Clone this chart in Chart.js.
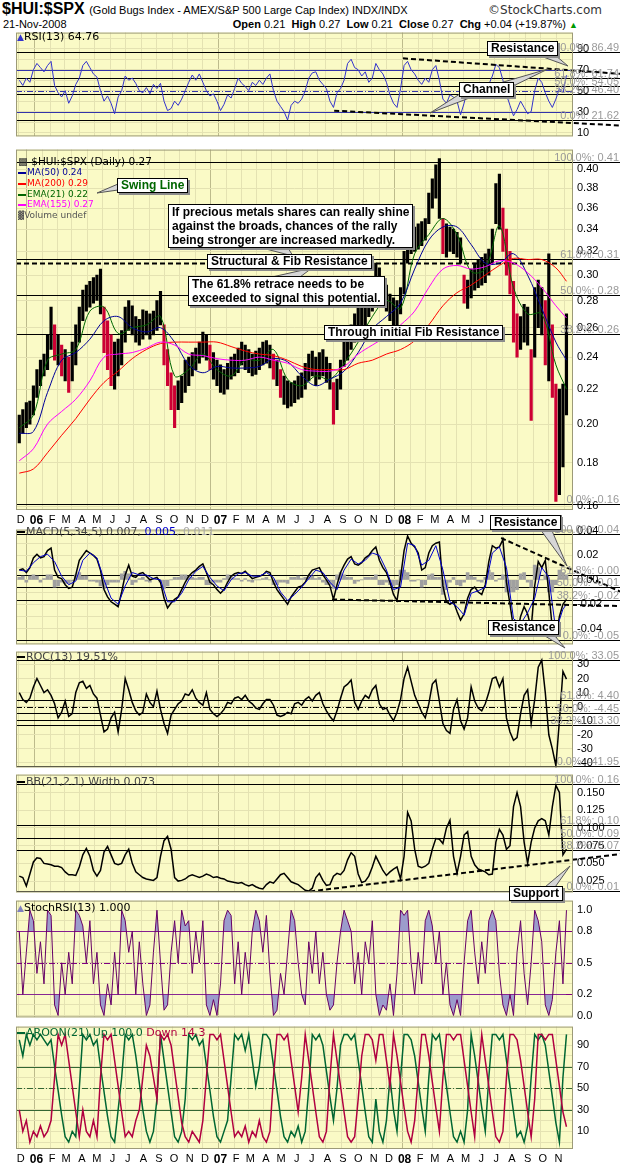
<!DOCTYPE html>
<html>
<head>
<meta charset="utf-8">
<title>$HUI:$SPX</title>
<script src="https://cdn.jsdelivr.net/npm/chart.js@4.4.1/dist/chart.umd.min.js"></script>
<style>
  body { margin: 0; width: 620px; height: 1165px; position: relative; background: #fff; overflow: hidden;
         font-family: "Liberation Sans", Arial, sans-serif; }
  canvas { position: absolute; left: 0; }
  .t { position: absolute; white-space: nowrap; color: #000; }
  .lg { position: absolute; white-space: nowrap; font: 11px "DejaVu Sans", Verdana, sans-serif; line-height: 13px; z-index: 5; }
  .lm { position: absolute; white-space: nowrap; font: 9px "DejaVu Sans", Verdana, sans-serif; line-height: 11px; z-index: 5; }
  .mk { display: inline-block; width: 8px; height: 2px; vertical-align: middle; margin-right: 1px; }
  .box { position: absolute; background: #fff; border: 1px solid #000; box-shadow: 2px 2px 0 #8c8c8c;
         font: bold 12px "Liberation Sans", Arial, sans-serif; line-height: 13px; padding: 0 3px; z-index: 7; white-space: nowrap; }
  svg { position: absolute; left: 0; top: 0; z-index: 6; }
</style>
</head>
<body>

<div class="t" style="left:2px;top:0px"><span style="font:bold 16px 'Liberation Sans',Arial">$HUI:$SPX</span>
  <span style="font:11px 'Liberation Sans',Arial">(Gold Bugs Index - AMEX/S&amp;P 500 Large Cap Index) INDX/INDX</span></div>
<div class="t" style="right:18px;top:3px;font:12px 'DejaVu Sans',Verdana;color:#333">&copy;StockCharts.com</div>
<div class="t" style="left:3px;top:18px;font:11px 'Liberation Sans',Arial">21-Nov-2008</div>
<div class="t" style="right:42px;top:18px;font:11px 'Liberation Sans',Arial"><b>Open</b> 0.21 &nbsp;<b>High</b> 0.27 &nbsp;<b>Low</b> 0.21 &nbsp;<b>Close</b> 0.27 &nbsp;<b>Chg</b> +0.04 (+19.87%) <span style="color:#009900;font-size:9px">&#9650;</span></div>

<canvas id="cRsi"></canvas>
<canvas id="cPrice"></canvas>
<canvas id="cMacd"></canvas>
<canvas id="cRoc"></canvas>
<canvas id="cBb"></canvas>
<canvas id="cSrsi"></canvas>
<canvas id="cAroon"></canvas>

<!-- panel legends -->
<div class="lg" style="left:17px;top:30px"><span style="color:#3333cc;font-size:9px">&#9650;</span>RSI(13) 64.76</div>

<div class="lm" style="left:18px;top:156px;font-size:10.5px"><span style="color:#333">&#9641;</span> $HUI:$SPX (Daily) 0.27</div>
<div class="lm" style="left:18px;top:167px;color:#000099"><span class="mk" style="background:#000099"></span>MA(50) 0.24</div>
<div class="lm" style="left:18px;top:178px;color:#ff0000"><span class="mk" style="background:#ff0000"></span>MA(200) 0.29</div>
<div class="lm" style="left:18px;top:189px;color:#006600"><span class="mk" style="background:#006600"></span>EMA(21) 0.22</div>
<div class="lm" style="left:18px;top:199px;color:#ff00ff"><span class="mk" style="background:#ff00ff"></span>EMA(155) 0.27</div>
<div class="lm" style="left:18px;top:210px;color:#555"><span style="font-size:8px">&#9619;</span>Volume undef</div>

<div class="lg" style="left:17px;top:525px;color:#444"><span class="mk" style="background:#000"></span>MACD(5,34,5) 0.007, <span style="color:#0000cc">0.005</span><span style="color:#aaa">, 0.011</span></div>
<div class="lg" style="left:17px;top:650px;color:#444"><span class="mk" style="background:#000"></span>ROC(13) 19.51%</div>
<div class="lg" style="left:17px;top:775px;color:#444"><span class="mk" style="background:#000"></span>BB(21,2.1) Width 0.073</div>
<div class="lg" style="left:17px;top:901px;color:#000"><span style="color:#8080c0;font-size:9px">&#9650;</span>StochRSI(13) 1.000</div>
<div class="lg" style="left:17px;top:1026px;color:#006633"><span class="mk" style="background:#006633"></span>AROON(21) Up 100.0 <span style="color:#b00040">Down 14.3</span></div>

<!-- callout tails -->
<svg width="620" height="1165">
  <g fill="#d6d6d6" stroke="#555" stroke-width="1">
    <polygon points="535,54 549,50 568,66"/>
    <polygon points="500,83 507,89 548,69"/>
    <polygon points="463,92 472,97 430,113"/>
    <polygon points="118,184 118,190 97,193"/>
    <polygon points="262,248 288,248 293,256"/>
    <polygon points="272,277 300,277 312,268"/>
    <polygon points="540,529 550,526 567,566"/>
    <polygon points="540,633 550,630 565,648"/>
    <polygon points="545,887 553,890 570,866"/>
  </g>
</svg>

<!-- callout boxes -->
<div class="box" style="left:487px;top:41px">Resistance</div>
<div class="box" style="left:459px;top:82px">Channel</div>
<div class="box" style="left:117px;top:178px;color:#006600">Swing Line</div>
<div class="box" style="left:168px;top:204px;line-height:14px">If precious metals shares can really shine<br>against the broads, chances of the rally<br>being stronger are increased markedly.</div>
<div class="box" style="left:207px;top:254px">Structural &amp; Fib Resistance</div>
<div class="box" style="left:188px;top:276px;line-height:14px">The 61.8% retrace needs to be<br>exceeded to signal this potential.</div>
<div class="box" style="left:324px;top:325px">Through initial Fib Resistance</div>
<div class="box" style="left:490px;top:515px">Resistance</div>
<div class="box" style="left:488px;top:620px">Resistance</div>
<div class="box" style="left:509px;top:886px">Support</div>

<script>
// weekly samples, week 0 = week ending Fri 2 Dec 2005, week 155 = 21 Nov 2008
const WEEK0 = Date.UTC(2005, 11, 2);

// $HUI:$SPX weekly low / high
const PRICE_LO = [
  0.190,0.195,0.198,0.200,0.205,0.215,0.222,0.228,0.232,0.245,
  0.238,0.235,0.228,0.225,0.218,0.225,0.235,0.250,0.265,0.272,
  0.275,0.278,0.280,0.270,0.243,0.232,0.222,0.220,0.228,0.235,
  0.250,0.258,0.255,0.250,0.248,0.252,0.255,0.252,0.255,0.258,
  0.262,0.235,0.222,0.208,0.198,0.208,0.212,0.218,0.222,0.228,
  0.232,0.236,0.240,0.238,0.232,0.226,0.222,0.218,0.217,0.220,
  0.226,0.228,0.230,0.235,0.232,0.230,0.228,0.229,0.232,0.235,
  0.236,0.233,0.226,0.222,0.215,0.211,0.209,0.210,0.212,0.214,
  0.215,0.220,0.225,0.228,0.222,0.226,0.228,0.224,0.220,0.200,
  0.208,0.220,0.234,0.238,0.245,0.250,0.255,0.258,0.262,0.268,
  0.272,0.282,0.280,0.277,0.272,0.265,0.262,0.262,0.270,0.285,
  0.310,0.318,0.320,0.322,0.325,0.330,0.345,0.360,0.370,0.350,
  0.318,0.315,0.320,0.318,0.315,0.310,0.278,0.274,0.282,0.288,
  0.290,0.292,0.294,0.300,0.310,0.345,0.340,0.320,0.300,0.285,
  0.250,0.240,0.245,0.250,0.248,0.202,0.240,0.260,0.255,0.235,
  0.225,0.215,0.162,0.165,0.178,0.205
];
const PRICE_HI = [
  0.205,0.208,0.212,0.213,0.222,0.232,0.238,0.242,0.255,0.275,
  0.262,0.255,0.248,0.245,0.240,0.250,0.262,0.275,0.288,0.292,
  0.295,0.298,0.300,0.305,0.275,0.265,0.255,0.250,0.252,0.258,
  0.275,0.280,0.276,0.268,0.266,0.273,0.272,0.270,0.272,0.280,
  0.287,0.262,0.245,0.230,0.222,0.225,0.228,0.238,0.240,0.243,
  0.246,0.250,0.257,0.255,0.248,0.243,0.238,0.235,0.232,0.236,
  0.240,0.242,0.246,0.250,0.248,0.245,0.242,0.244,0.246,0.250,
  0.251,0.248,0.242,0.238,0.232,0.228,0.225,0.224,0.225,0.228,
  0.230,0.236,0.242,0.244,0.240,0.243,0.245,0.240,0.236,0.224,
  0.226,0.238,0.258,0.260,0.262,0.270,0.275,0.280,0.285,0.290,
  0.295,0.310,0.306,0.296,0.292,0.285,0.282,0.280,0.290,0.320,
  0.335,0.345,0.342,0.345,0.347,0.350,0.375,0.390,0.405,0.412,
  0.350,0.345,0.342,0.340,0.337,0.332,0.300,0.296,0.305,0.310,
  0.313,0.315,0.318,0.322,0.340,0.385,0.395,0.360,0.340,0.320,
  0.295,0.270,0.268,0.277,0.275,0.245,0.290,0.296,0.290,0.280,
  0.318,0.262,0.223,0.220,0.223,0.270
];

// moving averages, read every 4th week (last one on week 155)
const MA50 = [0.195,0.196,0.218,0.238,0.243,0.252,0.265,0.268,0.260,0.257,
  0.260,0.250,0.235,0.230,0.234,0.233,0.233,0.234,0.239,0.237,
  0.228,0.222,0.226,0.231,0.243,0.259,0.268,0.278,0.305,0.330,
  0.342,0.342,0.326,0.310,0.310,0.318,0.300,0.274,0.250,0.238];
const MA200 = [0.175,0.177,0.185,0.194,0.203,0.214,0.224,0.231,0.239,0.245,
  0.249,0.250,0.250,0.250,0.250,0.247,0.244,0.242,0.241,0.238,
  0.234,0.232,0.232,0.232,0.236,0.238,0.242,0.245,0.251,0.262,
  0.276,0.286,0.292,0.300,0.308,0.314,0.313,0.313,0.306,0.295];
const EMA21 = [0.198,0.205,0.238,0.242,0.245,0.272,0.275,0.256,0.260,0.262,
  0.268,0.228,0.232,0.242,0.232,0.228,0.238,0.238,0.245,0.226,
  0.222,0.228,0.226,0.236,0.250,0.268,0.280,0.274,0.318,0.335,
  0.350,0.335,0.303,0.305,0.343,0.290,0.270,0.270,0.235,0.220];
const EMA155 = [0.181,0.187,0.200,0.207,0.214,0.225,0.240,0.242,0.243,0.246,
  0.250,0.248,0.242,0.241,0.239,0.238,0.238,0.240,0.238,0.236,
  0.232,0.231,0.231,0.234,0.242,0.248,0.254,0.262,0.272,0.290,
  0.305,0.308,0.305,0.307,0.312,0.310,0.302,0.290,0.276,0.267];

const RSI = [
  60,55,62,58,70,76,72,68,74,78, 55,48,44,50,38,45,56,62,74,78,
  72,66,63,50,40,45,38,28,44,50, 64,60,62,57,50,48,53,47,56,52,
  57,40,31,33,40,36,42,50,58,65, 60,66,58,50,45,47,40,31,37,46,
  43,52,62,57,54,50,58,55,60,56, 62,66,50,40,35,30,22,36,40,38,
  42,50,62,67,68,60,56,52,40,34, 48,52,60,76,80,72,70,64,68,58,
  62,76,70,66,58,46,38,34,52,74, 78,70,66,60,56,62,58,70,74,60,
  42,38,46,44,40,27,38,52,55,50, 56,52,48,56,64,75,72,60,46,36,
  26,32,40,34,28,30,50,62,58,48, 40,34,42,52,48,64.76
];

const MACD = [
  0.008,0.009,0.006,0.010,0.018,0.021,0.018,0.019,0.024,0.026,
  0.008,0.002,0.001,-0.004,-0.007,-0.006,0.004,0.016,0.020,0.024,
  0.022,0.020,0.017,0.008,-0.008,-0.014,-0.018,-0.020,-0.022,-0.010,
  0.004,0.012,0.003,0.002,0.005,0.006,0.003,0.000,0.001,0.002,
  -0.002,-0.015,-0.023,-0.019,-0.016,-0.014,-0.008,-0.002,0.003,0.006,
  0.008,0.011,0.013,0.006,-0.002,-0.004,-0.008,-0.011,-0.008,-0.002,
  0.003,0.005,0.006,0.005,0.007,0.004,0.001,0.002,0.003,0.004,
  0.007,0.006,-0.002,-0.008,-0.012,-0.016,-0.020,-0.014,-0.010,-0.006,
  -0.005,-0.002,0.004,0.008,0.009,0.010,0.004,0.000,-0.005,-0.016,
  -0.004,0.006,0.012,0.017,0.019,0.013,0.012,0.014,0.018,0.020,
  0.024,0.027,0.016,0.010,0.006,-0.002,-0.012,-0.017,0.002,0.024,
  0.036,0.030,0.027,0.022,0.008,0.010,0.022,0.028,0.030,0.031,
  -0.005,-0.018,-0.020,-0.018,-0.026,-0.033,-0.028,-0.015,-0.008,-0.006,
  -0.010,-0.012,-0.004,0.015,0.028,0.026,0.027,0.033,-0.002,-0.020,
  -0.040,-0.045,-0.030,-0.022,-0.028,-0.040,-0.005,0.015,0.010,0.016,
  -0.010,-0.040,-0.048,-0.030,-0.020,-0.016
];
// signal line, read every 2nd week (last one on week 155)
const MACD_SIG = [
  0.008,0.007,0.014,0.019,0.021,0.015,0.003,-0.004,-0.001,0.016,
  0.022,0.018,0.000,-0.015,-0.020,-0.005,0.006,0.004,0.004,0.001,
  0.000,-0.018,-0.018,-0.011,0.000,0.007,0.011,0.002,-0.005,-0.009,
  0.000,0.005,0.006,0.003,0.003,0.006,0.002,-0.010,-0.017,-0.012,
  -0.006,0.001,0.008,0.006,-0.002,-0.008,0.008,0.017,0.013,0.016,
  0.022,0.020,0.008,-0.008,-0.006,0.030,0.028,0.012,0.016,0.028,
  0.008,-0.018,-0.022,-0.029,-0.011,-0.009,-0.006,0.022,0.027,0.010,
  -0.032,-0.036,-0.027,-0.015,0.010,0.002,-0.042,-0.024,-0.020
];
const MACD_HIST = [
  0.002,0.003,-0.002,0.003,0.004,0.003,-0.002,0.001,0.004,0.004,
  -0.006,-0.005,-0.002,-0.003,-0.003,-0.001,0.004,0.006,0.003,0.003,
  -0.001,-0.001,-0.002,-0.005,-0.007,-0.004,-0.002,-0.002,-0.002,0.005,
  0.007,0.005,-0.004,-0.002,0.001,0.002,-0.001,-0.002,0.001,0.001,
  -0.002,-0.007,-0.005,0.000,0.002,0.002,0.004,0.004,0.003,0.002,
  0.001,0.002,0.002,-0.004,-0.004,-0.002,-0.002,-0.002,0.001,0.004,
  0.003,0.001,0.001,-0.001,0.001,-0.001,-0.002,0.000,0.000,0.001,
  0.002,0.000,-0.004,-0.004,-0.002,-0.002,-0.003,0.002,0.002,0.003,
  0.001,0.002,0.003,0.003,0.001,0.002,-0.002,-0.004,-0.004,-0.007,
  0.004,0.006,0.004,0.002,0.002,-0.003,-0.001,0.000,0.002,0.002,
  0.002,0.004,-0.004,-0.004,-0.002,-0.004,-0.005,-0.004,0.008,0.008,
  0.006,-0.001,-0.001,0.000,-0.006,-0.004,0.004,0.005,0.002,0.002,
  -0.012,-0.008,-0.002,0.002,-0.004,-0.005,-0.002,0.006,0.003,0.002,
  -0.001,-0.002,0.002,0.008,0.006,-0.001,0.001,0.004,-0.010,-0.010,
  -0.010,-0.008,0.005,0.006,-0.002,-0.006,0.012,0.010,0.000,0.004,
  -0.010,-0.010,-0.004,0.008,0.006,0.004
];

const ROC = [
  10,5,3,6,14,20,15,10,12,8, 2,-8,-4,4,-7,-5,10,17,18,13,
  15,9,6,-6,-18,-16,-8,-4,-18,-2, 20,12,3,-3,-6,-4,9,3,0,11,
  -2,-12,-19,-6,-2,2,4,9,8,12, 6,3,1,10,-2,-5,-7,-5,-2,3,
  2,6,7,5,8,4,2,-1,-2,2, 5,5,1,-6,-7,-6,-4,-5,2,3,
  1,5,7,4,8,10,2,-3,-7,-10, -3,6,14,16,19,3,-2,4,8,6,
  12,15,2,-2,-1,-6,-10,-4,5,20, 28,18,8,2,-4,-8,2,16,19,4,
  -12,-17,-19,-2,5,-10,-16,-8,14,4, -1,-3,2,10,20,21,14,20,-8,-18,
  -24,-22,-5,8,12,-12,5,28,33,10, -20,-30,-42,-10,25,19.51
];

const BB_WIDTH = [
  0.032,0.030,0.018,0.035,0.052,0.058,0.057,0.050,0.049,0.048,
  0.046,0.046,0.044,0.038,0.034,0.034,0.033,0.045,0.062,0.071,
  0.060,0.040,0.032,0.040,0.066,0.074,0.062,0.050,0.048,0.050,
  0.062,0.070,0.050,0.038,0.034,0.030,0.028,0.027,0.026,0.030,
  0.060,0.082,0.088,0.070,0.030,0.025,0.026,0.028,0.032,0.034,
  0.032,0.030,0.032,0.035,0.033,0.030,0.031,0.029,0.028,0.025,
  0.024,0.023,0.022,0.023,0.020,0.018,0.020,0.017,0.015,0.014,
  0.020,0.024,0.022,0.028,0.034,0.036,0.030,0.024,0.022,0.020,
  0.016,0.012,0.011,0.015,0.030,0.036,0.026,0.019,0.020,0.032,
  0.036,0.034,0.040,0.055,0.065,0.060,0.035,0.023,0.025,0.032,
  0.045,0.060,0.050,0.040,0.033,0.038,0.042,0.045,0.028,0.060,
  0.122,0.110,0.070,0.046,0.044,0.046,0.050,0.070,0.085,0.084,
  0.078,0.100,0.111,0.060,0.036,0.060,0.090,0.095,0.060,0.048,
  0.042,0.040,0.038,0.034,0.035,0.080,0.098,0.090,0.070,0.075,
  0.130,0.150,0.130,0.080,0.050,0.080,0.100,0.110,0.113,0.110,
  0.090,0.130,0.160,0.150,0.062,0.070
];

const STOCH_RSI = [
  0.8,0.2,0.6,1.0,0.9,0.4,0.7,0.3,1.0,0.95, 0.1,0.0,0.5,0.2,0.6,0.3,1.0,0.95,0.85,0.5,
  0.9,0.3,0.6,0.1,0.0,0.3,0.1,0.6,0.2,1.0, 0.9,0.6,0.8,0.2,0.7,0.3,0.0,0.1,0.6,1.0,
  0.5,0.05,0.1,0.6,0.9,0.5,1.0,0.85,0.9,0.4, 0.8,0.5,0.9,0.1,0.0,0.15,0.0,0.3,0.9,1.0,
  0.95,0.3,0.7,0.2,0.6,0.3,0.8,1.0,0.9,0.6, 0.95,0.4,0.0,0.05,0.4,0.2,0.6,1.0,0.9,0.5,
  0.2,0.1,0.7,0.4,0.8,0.3,0.6,0.2,0.05,0.1, 0.5,0.8,1.0,0.9,0.8,0.3,0.6,0.2,0.7,0.5,
  0.9,0.2,0.0,0.1,0.05,0.3,0.0,0.4,1.0,0.95, 1.0,0.5,0.2,0.6,0.3,0.9,1.0,0.85,0.5,0.8,
  0.2,0.5,0.1,0.0,0.15,0.0,0.5,0.9,1.0,0.6, 0.3,0.7,0.4,0.9,1.0,0.9,0.4,0.1,0.0,0.2,
  0.0,0.6,0.9,0.4,0.1,0.5,1.0,0.9,0.7,0.1, 0.0,0.15,0.6,0.9,0.3,1.0
];

const AROON_UP = [
  95,80,100,90,100,95,100,95,90,95, 70,48,25,5,0,10,5,50,100,95,
  100,90,95,70,47,24,5,0,30,60, 100,95,100,80,55,30,10,0,10,40,
  100,76,52,28,5,0,10,40,100,95, 100,90,95,71,48,24,5,0,10,20,
  60,100,95,100,85,100,76,52,70,100, 100,95,71,48,24,5,0,10,5,15,
  0,10,50,100,95,100,90,66,42,20, 50,90,100,100,95,100,76,52,28,5,
  0,40,10,0,20,60,30,10,60,100, 100,95,80,56,32,10,60,100,95,100,
  76,52,28,5,0,10,0,30,100,80, 56,32,10,60,100,100,95,100,76,52,
  28,5,10,0,15,60,100,95,100,90, 66,42,18,0,60,100
];
const AROON_DOWN = [
  30,10,20,0,10,5,15,5,10,20, 60,100,90,100,76,52,28,5,30,10,
  5,20,5,60,100,95,100,76,52,28, 5,10,5,20,30,60,90,80,60,40,
  100,95,100,90,66,42,18,5,0,10, 5,0,20,60,100,100,95,100,76,52,
  28,5,10,5,15,0,10,5,20,5, 0,10,60,100,100,95,100,76,52,28,
  60,100,76,52,28,5,0,10,60,100, 76,52,28,5,0,5,40,80,100,100,
  95,76,100,100,76,52,100,80,56,32, 10,0,20,60,100,100,80,56,32,10,
  60,100,100,95,100,100,76,52,28,5, 60,100,76,52,28,5,0,10,60,100,
  100,95,76,52,28,5,40,100,100,95, 100,100,76,52,28,14.3
];

// fibonacci retracement levels shown on each panel
const FIB_PCT = ["100.0%", "61.8%", "50.0%", "38.2%", "0.0%"];
const RSI_FIB = [86.49, 61.74, 54.05, 46.40, 21.62];
const PRICE_FIB = [0.408, 0.3136, 0.2845, 0.2554, 0.161];
const PRICE_FIB_TXT = ["0.41", "0.31", "0.28", "0.26", "0.16"];
const MACD_FIB = [0.0375, 0.0042, -0.0061, -0.0164, -0.0497];
const MACD_FIB_TXT = ["0.04", "0.00", "-0.01", "-0.02", "-0.05"];
const ROC_FIB = [33.05, 4.40, -4.45, -13.30, -41.95];
const BB_FIB = [0.1615, 0.1038, 0.0860, 0.0682, 0.0105];
const BB_FIB_TXT = ["0.16", "0.10", "0.09", "0.07", "0.01"];

// hand drawn trend lines: [week, value] pairs
const RSI_RES_LINE = [[108.7, 80.9], [170.2, 66.1]];
const RSI_SUP_LINE = [[89.2, 30.9], [170.2, 16.8]];
const MACD_RES_LINE = [[136.5, 0.0343], [170.2, -0.0096]];
const MACD_SUP_LINE = [[88.6, -0.0161], [170.2, -0.0215]];
const BB_SUP_LINE = [[82.4, 0.0105], [170.2, 0.0631]];
const STRUCT_RES = 0.31;

// axis tick values
const PRICE_TICKS = [0.16,0.18,0.20,0.22,0.24,0.26,0.28,0.30,0.32,0.34,0.36,0.38,0.40];
const RSI_TICKS = [10,20,30,40,50,60,70,80,90,100];
const MACD_TICKS = [-0.04,-0.03,-0.02,-0.01,0,0.01,0.02,0.03,0.04];
const ROC_TICKS = [-40,-30,-20,-10,0,10,20,30];
const BB_TICKS = [0.025,0.05,0.075,0.1,0.125,0.15];
const SRSI_TICKS = [0,0.1,0.2,0.3,0.4,0.5,0.6,0.7,0.8,0.9,1.0];
const AROON_TICKS = [0,10,20,30,40,50,60,70,80,90,100];

// ---------------------------------------------------------------

const BG = "#fafac6";
const GRID = "#e4e2b2";
const YEAR_GRID = "#bdbb8c";
const EDGE = "#9c9a78";
const RED_BAR = "#cc0033";
const X_MIN = -0.93, X_MAX = 156.85;
const WEEKS = PRICE_LO.map((_, k) => k);
const MA_WEEKS = MA50.map((_, i) => Math.min(i * 4, 155));
const SIG_WEEKS = MACD_SIG.map((_, i) => Math.min(i * 2, 155));

// month boundaries for the date axis
const MONTHS = [];
for (let i = 0; i < 36; i++) {
  const y = 2005 + Math.floor((11 + i) / 12), m = (11 + i) % 12;
  MONTHS.push({
    value: (Date.UTC(y, m, 1) - WEEK0) / (7 * 864e5),
    label: m === 0 ? String(y).slice(2) : "JFMAMJJASOND"[m],
    major: m === 0
  });
}

const FONT = '"Liberation Sans", Arial, sans-serif';

function xScale(labels) {
  return {
    type: "linear", min: X_MIN, max: X_MAX, offset: false, bounds: "data",
    afterBuildTicks: s => { s.ticks = MONTHS.map(t => ({ value: t.value, major: t.major })); },
    afterFit: s => { s.height = labels ? 17 : 0; },
    grid: { color: c => (c.tick && c.tick.major) ? YEAR_GRID : GRID, drawTicks: false },
    border: { display: false },
    ticks: {
      display: labels, autoSkip: false, maxRotation: 0, padding: 3, labelOffset: 2, color: "#000",
      callback: (v, i) => MONTHS[i].label,
      font: c => (c.tick && c.tick.major) ? { family: FONT, size: 12, weight: "bold" } : { family: FONT, size: 11 }
    }
  };
}

function yScale(o) {
  return {
    type: o.log ? "logarithmic" : "linear", position: "right", min: o.min, max: o.max, bounds: "data",
    afterBuildTicks: s => { s.ticks = o.ticks.map(v => ({ value: v })); },
    afterFit: s => { s.width = 47; },
    grid: { color: GRID, drawTicks: false },
    border: { display: false },
    ticks: { padding: 4, color: "#000", font: { family: FONT, size: 11 }, autoSkip: false, callback: o.fmt }
  };
}

function deco(cfg) {
  return {
    id: "deco",
    beforeDraw(chart) {
      const a = chart.chartArea, c = chart.ctx;
      c.save();
      c.fillStyle = BG;
      c.fillRect(a.left, a.top, a.right - a.left, a.bottom - a.top);
      c.restore();
    },
    beforeDatasetsDraw(chart) {
      const a = chart.chartArea, c = chart.ctx, ys = chart.scales.y;
      c.save();
      (cfg.levels || []).forEach(l => {
        const y = Math.round(ys.getPixelForValue(l.v)) + 0.5;
        c.strokeStyle = l.c || "#000";
        c.lineWidth = l.w || 1;
        c.setLineDash(l.d || []);
        c.beginPath(); c.moveTo(a.left, y); c.lineTo(a.right, y); c.stroke();
      });
      // fib lines run on into the label strip
      c.setLineDash([]);
      c.strokeStyle = "#000";
      c.lineWidth = 1;
      (cfg.fibs || []).forEach(f => {
        const y = Math.round(ys.getPixelForValue(f.v)) + 0.5;
        c.beginPath(); c.moveTo(a.left, y); c.lineTo(chart.width, y); c.stroke();
      });
      c.restore();
    },
    afterDraw(chart) {
      const a = chart.chartArea, c = chart.ctx, ys = chart.scales.y;
      c.save();
      c.strokeStyle = EDGE; c.lineWidth = 1;
      c.strokeRect(a.left + 0.5, a.top + 0.5, a.right - a.left - 1, a.bottom - a.top - 1);
      c.font = "11px " + FONT;
      c.fillStyle = "#9a9a9a"; c.textAlign = "right"; c.textBaseline = "bottom";
      (cfg.fibs || []).forEach(f => c.fillText(f.t, 619, Math.round(ys.getPixelForValue(f.v)) + 1));
      c.restore();
    }
  };
}

function pane(id, top, bottom, axis, cfg) {
  const cv = document.getElementById(id);
  cv.width = 620;
  cv.height = bottom - top + 8 + (axis ? 17 : 8);
  cv.style.top = (top - 8) + "px";
  return new Chart(cv, {
    type: "line",
    data: { datasets: cfg.datasets },
    options: {
      responsive: false, animation: false, devicePixelRatio: 1, events: [],
      layout: { padding: { left: 16, right: 0, top: 8, bottom: axis ? 0 : 8 } },
      plugins: { legend: { display: false }, tooltip: { enabled: false } },
      elements: { point: { radius: 0 }, line: { borderWidth: 1, tension: 0 } },
      scales: { x: xScale(axis), y: yScale(cfg.y) }
    },
    plugins: [deco(cfg)]
  });
}

const line = (xs, ys, color, extra) => Object.assign({
  type: "line", data: xs.map((x, i) => ({ x: x, y: ys[i] })), borderColor: color,
  borderWidth: 1, pointRadius: 0, fill: false, order: 1
}, extra || {});

const trend = (pts) => ({
  type: "line", data: pts.map(p => ({ x: p[0], y: p[1] })), borderColor: "#000",
  borderWidth: 2, borderDash: [5, 3], pointRadius: 0, fill: false, clip: false, order: 0
});

const fibs = (vals, txt) => vals.map((v, i) => ({ v: v, t: FIB_PCT[i] + ": " + (txt ? txt[i] : v.toFixed(2)) }));

// RSI
pane("cRsi", 30, 139, false, {
  y: { min: 6.36, max: 105.45, ticks: RSI_TICKS, fmt: v => (v % 20 === 10 ? String(v) : "") },
  levels: [{ v: 70, c: "#3333aa" }, { v: 30, c: "#3333aa" }, { v: 50, c: "#3333aa", d: [6, 2, 1, 2] }],
  fibs: fibs(RSI_FIB),
  datasets: [
    line(WEEKS, RSI, "#3333cc"),
    trend(RSI_RES_LINE), trend(RSI_SUP_LINE)
  ]
});

// price: a week is drawn red when its mid point falls clearly below the previous week's
const barColors = PRICE_LO.map((lo, k) => {
  if (k === 0) return "#000";
  const mid = lo + PRICE_HI[k], prev = PRICE_LO[k - 1] + PRICE_HI[k - 1];
  return mid < prev * 0.975 ? RED_BAR : "#000";
});
pane("cPrice", 147, 510, true, {
  y: { log: true, min: 0.1583, max: 0.4222, ticks: PRICE_TICKS, fmt: v => v.toFixed(2) },
  levels: [{ v: STRUCT_RES, c: "#000", w: 2, d: [5, 3] }],
  fibs: fibs(PRICE_FIB, PRICE_FIB_TXT),
  datasets: [
    { type: "bar", data: WEEKS.map(k => ({ x: k, y: [PRICE_LO[k], PRICE_HI[k]] })),
      backgroundColor: barColors, barThickness: 2.5, grouped: false, order: 5 },
    line(MA_WEEKS, EMA155, "#ff00ff", { tension: 0.35 }),
    line(MA_WEEKS, MA200, "#ff0000", { tension: 0.35 }),
    line(MA_WEEKS, MA50, "#000099", { tension: 0.35 }),
    line(MA_WEEKS, EMA21, "#006600", { tension: 0.35 })
  ]
});

// MACD
pane("cMacd", 527, 647, false, {
  y: { min: -0.05294, max: 0.04118, ticks: MACD_TICKS,
       fmt: v => (Math.abs(Math.round(v * 100) % 2) === 0 ? v.toFixed(2) : "") },
  fibs: fibs(MACD_FIB, MACD_FIB_TXT),
  datasets: [
    { type: "bar", data: WEEKS.map(k => ({ x: k, y: MACD_HIST[k] })), backgroundColor: "#a0a0a0",
      barThickness: 3, grouped: false, order: 5 },
    line(SIG_WEEKS, MACD_SIG, "#0000cc"),
    line(WEEKS, MACD, "#000", { borderWidth: 1.5 }),
    trend(MACD_RES_LINE), trend(MACD_SUP_LINE)
  ]
});

// ROC
pane("cRoc", 649, 770, false, {
  y: { min: -43.2, max: 39.12, ticks: ROC_TICKS, fmt: v => String(v) },
  levels: [{ v: 0, c: "#000", d: [6, 2, 1, 2] }, { v: -9.3, c: "#000" }],
  fibs: fibs(ROC_FIB),
  datasets: [line(WEEKS, ROC, "#000", { borderWidth: 1.5 })]
});

// Bollinger band width
pane("cBb", 772, 895, false, {
  y: { min: 0.00905, max: 0.17527, ticks: BB_TICKS, fmt: v => v.toFixed(3) },
  fibs: fibs(BB_FIB, BB_FIB_TXT),
  datasets: [line(WEEKS, BB_WIDTH, "#000", { borderWidth: 1.5 }), trend(BB_SUP_LINE)]
});

// StochRSI
const SRSI_FILL = "#9c9ccc";
pane("cSrsi", 898, 1020, false, {
  y: { min: -0.0182, max: 1.0909, ticks: SRSI_TICKS,
       fmt: v => ([0, 0.2, 0.5, 0.8, 1].some(t => Math.abs(t - v) < 1e-6) ? v.toFixed(1) : "") },
  levels: [{ v: 0.8, c: "#800080" }, { v: 0.2, c: "#800080" }, { v: 0.5, c: "#800080", d: [6, 2, 1, 2] }],
  datasets: [
    line(WEEKS, STOCH_RSI, "transparent", { borderWidth: 0, fill: { target: { value: 0.8 }, above: SRSI_FILL, below: "transparent" }, order: 3 }),
    line(WEEKS, STOCH_RSI, "transparent", { borderWidth: 0, fill: { target: { value: 0.2 }, above: "transparent", below: SRSI_FILL }, order: 3 }),
    line(WEEKS, STOCH_RSI, "#660066")
  ]
});

// Aroon
pane("cAroon", 1024, 1149, true, {
  y: { min: -6.36, max: 107.27, ticks: AROON_TICKS, fmt: v => (v % 20 === 10 ? String(v) : "") },
  levels: [{ v: 70, c: "#336633" }, { v: 30, c: "#336633" }, { v: 50, c: "#336633", d: [6, 2, 1, 2] }],
  datasets: [
    line(WEEKS, AROON_DOWN, "#b00040", { borderWidth: 1.5 }),
    line(WEEKS, AROON_UP, "#006633", { borderWidth: 1.5 })
  ]
});
</script>
</body>
</html>
